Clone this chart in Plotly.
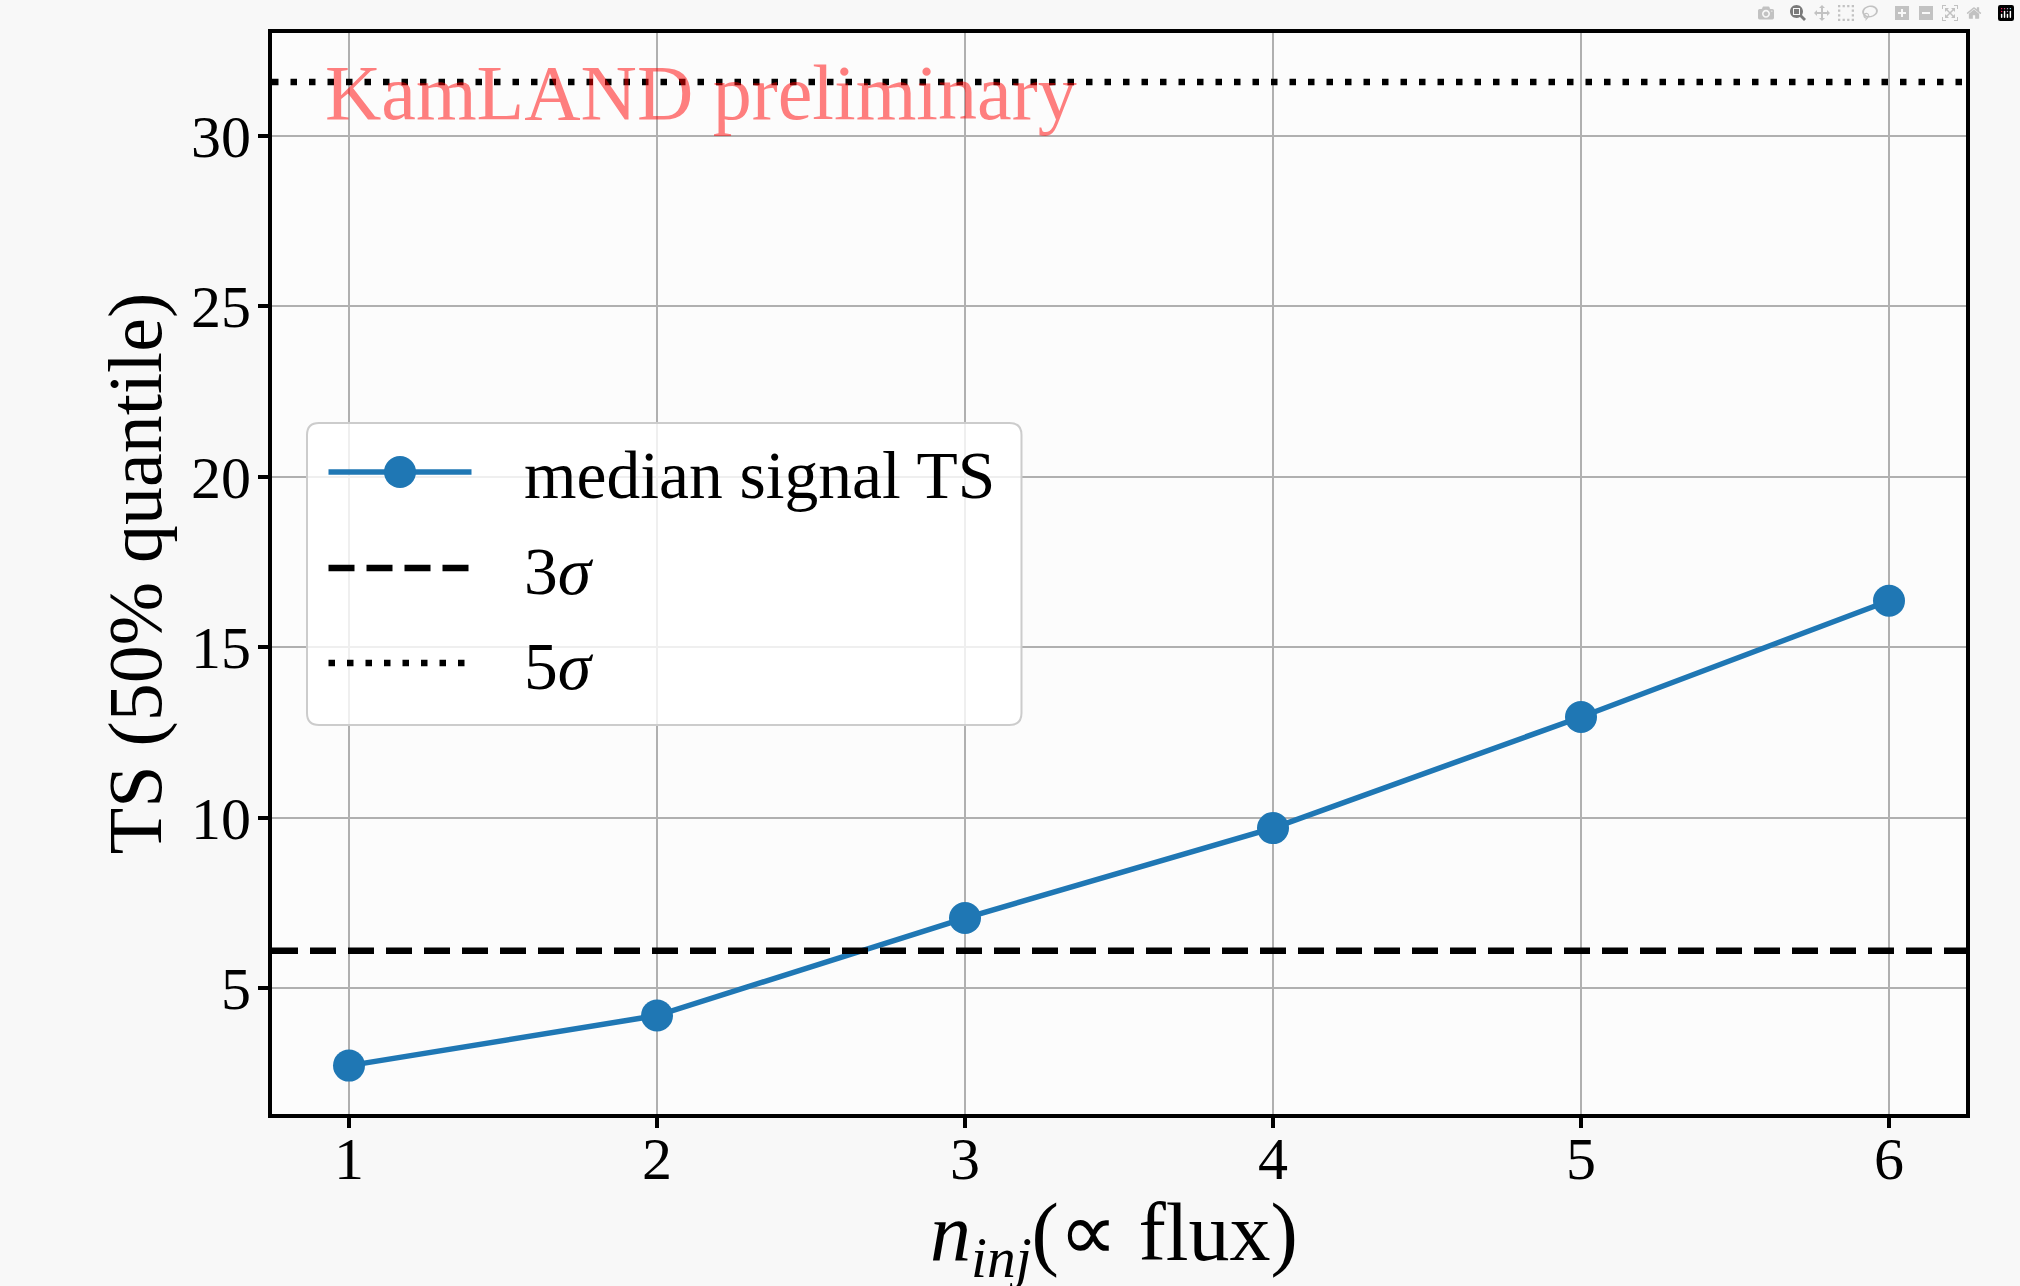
import plotly.graph_objects as go

# ---- data ----
n_inj = [1, 2, 3, 4, 5, 6]
median_ts = [2.72, 4.19, 7.05, 9.69, 12.95, 16.36]
ts_3sigma = 6.09
ts_5sigma = 31.58
x_range = [0.75, 6.25]
y_range = [1.30, 33.02]
x_ticks = [1, 2, 3, 4, 5, 6]
y_ticks = [5, 10, 15, 20, 25, 30]
legend_labels = ["median signal TS", "3<i>σ</i>", "5<i>σ</i>"]
x_title = "<i>n</i><sub><i>inj</i></sub>(∝ flux)"
y_title = "TS (50% quantile)"

FONT = "Liberation Serif"
BLUE = "#1f77b4"
W, H = 2020, 1286
ML, MR, MT, MB = 272, 54, 33, 172

fig = go.Figure()
fig.add_trace(go.Scatter(
    x=n_inj, y=median_ts, mode="lines+markers", name=legend_labels[0],
    line=dict(color=BLUE, width=5.5), marker=dict(color=BLUE, size=32),
    showlegend=False,
))
fig.add_trace(go.Scatter(
    x=x_range, y=[ts_3sigma, ts_3sigma], mode="lines", name=legend_labels[1],
    line=dict(color="black", width=6.5, dash="26px,12px"), showlegend=False,
))
fig.add_trace(go.Scatter(
    x=x_range, y=[ts_5sigma, ts_5sigma], mode="lines", name=legend_labels[2],
    line=dict(color="black", width=6.5, dash="6.5px,12px"), showlegend=False,
))

axis_common = dict(
    showline=True, linecolor="black", linewidth=4, mirror=True,
    showgrid=True, gridcolor="#b0b0b0", gridwidth=2,
    ticks="outside", ticklen=10, tickwidth=3.5, tickcolor="black",
    tickfont=dict(family=FONT, size=60, color="black"),
    zeroline=False, automargin=False,
)

fig.update_xaxes(
    range=x_range, tickmode="array", tickvals=x_ticks, ticklabelstandoff=-21,
    **axis_common,
)
fig.update_yaxes(
    range=y_range, tickmode="array", tickvals=y_ticks, ticklabelstandoff=-5,
    title=dict(text=y_title,
               font=dict(family=FONT, size=76, color="black"), standoff=5),
    **axis_common,
)


def px(x):
    return (x - ML) / (W - ML - MR)


def py(y):
    return (H - MB - y) / (H - MT - MB)


# x-axis title placed like the reference (runs to the bottom edge)
fig.add_annotation(
    text=x_title, xref="x domain", yref="paper", x=0.497, y=py(1185),
    xanchor="center", yanchor="top", showarrow=False,
    font=dict(family=FONT, size=82, color="black"),
)

fig.add_annotation(
    text="KamLAND preliminary", xref="x domain", yref="y domain",
    x=0.03, y=0.903, xanchor="left", yanchor="bottom", showarrow=False,
    font=dict(family=FONT, size=78, color="rgba(255,0,0,0.5)"),
)

# ---- legend drawn by hand (matplotlib-like: long symbols, big marker) ----
bx0, bx1, by0, by1 = px(307), px(1021.5), py(725), py(423)
rx, ry = 12 / (W - ML - MR), 12 / (H - MT - MB)
box_path = (
    f"M{bx0 + rx},{by1} L{bx1 - rx},{by1} Q{bx1},{by1} {bx1},{by1 - ry} "
    f"L{bx1},{by0 + ry} Q{bx1},{by0} {bx1 - rx},{by0} L{bx0 + rx},{by0} "
    f"Q{bx0},{by0} {bx0},{by0 + ry} L{bx0},{by1 - ry} Q{bx0},{by1} {bx0 + rx},{by1} Z"
)
fig.add_shape(type="path", path=box_path, xref="paper", yref="paper", layer="above",
              fillcolor="rgba(255,255,255,0.8)", line=dict(color="#cccccc", width=2))

row_y = [472, 568, 663]
for tr, ry_px in zip(fig.data, row_y):
    fig.add_shape(type="line", xref="paper", yref="paper", layer="above",
                  x0=px(328.5), x1=px(471.5), y0=py(ry_px), y1=py(ry_px),
                  line=dict(color=tr.line.color, width=tr.line.width, dash=tr.line.dash))
    if tr.mode and "markers" in tr.mode:
        r = tr.marker.size / 2
        fig.add_shape(type="circle", xref="paper", yref="paper", layer="above",
                      xsizemode="pixel", ysizemode="pixel",
                      xanchor=px(400), yanchor=py(ry_px),
                      x0=-r, x1=r, y0=-r, y1=r,
                      fillcolor=tr.marker.color, line=dict(width=0))
    fig.add_annotation(text=tr.name, xref="paper", yref="paper",
                       x=px(522), y=py(ry_px + 3), xanchor="left", yanchor="middle",
                       showarrow=False, font=dict(family=FONT, size=67.5, color="black"))

fig.update_layout(
    width=W, height=H,
    margin=dict(l=ML, r=MR, t=MT, b=MB, autoexpand=False),
    paper_bgcolor="#f8f8f8", plot_bgcolor="rgba(255,255,255,0.55)",
    font=dict(family=FONT, color="black"),
    showlegend=False,
)

fig.write_html("out.html", post_script="document.body.style.margin='0';")
